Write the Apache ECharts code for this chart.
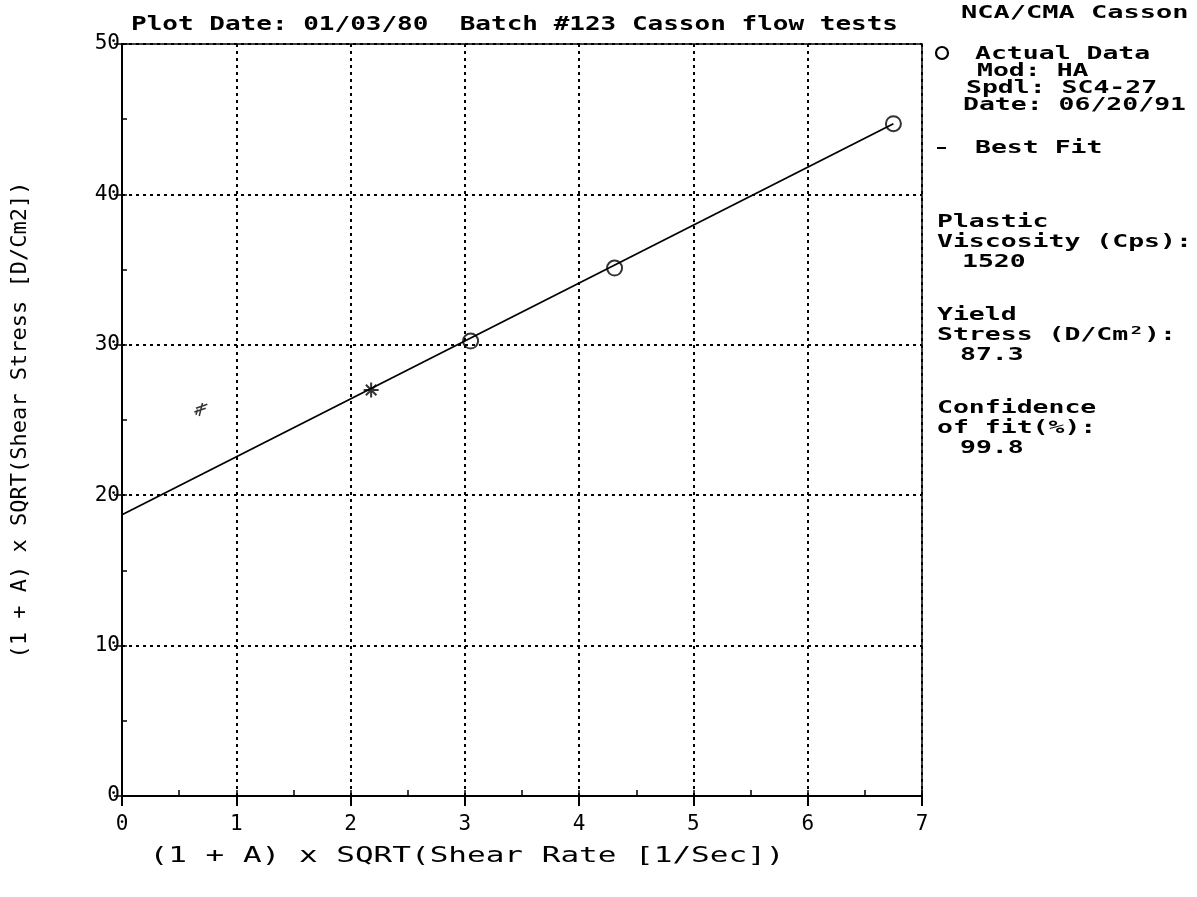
<!DOCTYPE html>
<html>
<head>
<meta charset="utf-8">
<script src="https://cdn.jsdelivr.net/npm/echarts@6/dist/echarts.min.js"></script>
<style>html,body{margin:0;padding:0;background:#fff;}#c{width:1197px;height:897px;}</style>
</head>
<body>
<div id="c"></div>
<script>
// ---- data ----
const actualX = [3.05, 4.31, 6.75];
const actualY = [30.25, 35.1, 44.7];
const starX = [2.18];
const starY = [27.0];
const strayX = [0.69];
const strayY = [25.7];
const fitX = [0, 6.75];
const fitY = [18.7, 44.7];
const xTicks = ['0','1','2','3','4','5','6','7'];
const yTicks = ['0','10','20','30','40','50'];
const titleText = 'Plot Date: 01/03/80  Batch #123 Casson flow tests';
const sideHeader = 'NCA/CMA Casson';
const legendLines = ['Actual Data', 'Mod: HA', 'Spdl: SC4-27', 'Date: 06/20/91', 'Best Fit'];
const statLines = ['Plastic', 'Viscosity (Cps):', '1520', 'Yield', 'Stress (D/Cm²):', '87.3', 'Confidence', 'of fit(%):', '99.8'];
const xName = '(1 + A) x SQRT(Shear Rate [1/Sec])';
const yName = '(1 + A) x SQRT(Shear Stress [D/Cm2])';

const zip = (a, b) => a.map((v, i) => [v, b[i]]);
const BOLD = 'bold 18px "DejaVu Sans Mono"';
function t(text, x, y, sx, font, align) {
  return {
    type: 'text', x: x, y: y, scaleX: sx, silent: true,
    style: { text: text, font: font || BOLD, fill: '#000', textAlign: align || 'left', textVerticalAlign: 'middle' }
  };
}
const SX = 1.47;
const graphics = [
  t(titleText, 131, 25, 1.3, 'bold 20px "DejaVu Sans Mono"'),
  t(sideHeader, 961, 13, 1.5),
  { type: 'circle', silent: true, shape: { cx: 942, cy: 53, r: 6 }, style: { fill: 'none', stroke: '#000', lineWidth: 2.2 } },
  t(legendLines[0], 975, 54, SX),
  t(legendLines[1], 977, 71, SX),
  t(legendLines[2], 966, 88, SX),
  t(legendLines[3], 963, 105, SX),
  { type: 'line', silent: true, shape: { x1: 937, y1: 148, x2: 946, y2: 148 }, style: { stroke: '#000', lineWidth: 2 } },
  t(legendLines[4], 975, 148, SX),
  t(statLines[0], 937, 222, SX),
  t(statLines[1], 937, 242, SX),
  t(statLines[2], 962, 262, SX),
  t(statLines[3], 937, 315, SX),
  t(statLines[4], 937, 335, SX),
  t(statLines[5], 960, 355, SX),
  t(statLines[6], 937, 408, SX),
  t(statLines[7], 937, 428, SX),
  t(statLines[8], 960, 448, SX),
  t(xName, 467, 856, 1.41, '22px "DejaVu Sans Mono"', 'center'),
  { type: 'text', x: 20, y: 420, rotation: Math.PI / 2, silent: true,
    style: { text: yName, font: '22px "DejaVu Sans Mono"', fill: '#000', textAlign: 'center', textVerticalAlign: 'middle' } }
];

const chart = echarts.init(document.getElementById('c'), null, { renderer: 'canvas' });
const gridLine = { show: true, lineStyle: { color: '#000', width: 2, type: [3, 4] } };
chart.setOption({
  animation: false,
  backgroundColor: '#fff',
  grid: { left: 122, right: 275, top: 44, bottom: 101, show: true, borderColor: '#000', borderWidth: 1.5, backgroundColor: 'transparent' },
  graphic: graphics,
  xAxis: [
    { type: 'value', min: 0, max: 7, interval: 1,
      axisLine: { show: true, onZero: false, lineStyle: { color: '#000', width: 2 } },
      axisTick: { show: true, inside: false, length: 10, lineStyle: { color: '#000', width: 2 } },
      axisLabel: { color: '#000', margin: 18, fontSize: 21, fontFamily: 'DejaVu Sans Mono', formatter: v => xTicks[Math.round(v)] },
      splitLine: gridLine },
    { type: 'value', min: 0, max: 7, interval: 0.5, position: 'bottom',
      axisLine: { show: false }, axisLabel: { show: false }, splitLine: { show: false },
      axisTick: { show: true, inside: true, length: 6, lineStyle: { color: '#000', width: 1.5 } } }
  ],
  yAxis: [
    { type: 'value', min: 0, max: 50, interval: 10,
      axisLine: { show: true, onZero: false, lineStyle: { color: '#000', width: 2 } },
      axisTick: { show: true, inside: false, length: 8, lineStyle: { color: '#000', width: 1.5 } },
      axisLabel: { color: '#000', margin: 2, fontSize: 21, fontFamily: 'DejaVu Sans Mono', formatter: v => yTicks[Math.round(v / 10)] },
      splitLine: gridLine },
    { type: 'value', min: 0, max: 50, interval: 5, position: 'left',
      axisLine: { show: false }, axisLabel: { show: false }, splitLine: { show: false },
      axisTick: { show: true, inside: true, length: 5, lineStyle: { color: '#000', width: 1.5 } } }
  ],
  series: [
    { name: 'Best Fit', type: 'line', data: zip(fitX, fitY), showSymbol: false, symbol: 'none',
      lineStyle: { color: '#000', width: 1.8 }, z: 3 },
    { name: 'Actual Data', type: 'scatter', data: zip(actualX, actualY), symbol: 'circle', symbolSize: 15,
      itemStyle: { color: 'rgba(255,255,255,0)', borderColor: '#000', borderWidth: 2 }, z: 4 },
    { name: 'Point', type: 'scatter', data: zip(starX, starY), symbolSize: 15,
      symbol: 'path://M0,5L10,5M5,0L5,10M1.5,1.5L8.5,8.5M8.5,1.5L1.5,8.5',
      itemStyle: { color: 'none', borderColor: '#000', borderWidth: 2 }, z: 4 },
    { name: 'Mark', type: 'scatter', data: zip(strayX, strayY), symbolSize: 13,
      symbol: 'path://M2,4L9,1M1,7L8,4M4,10L6,0M2,9L3,5',
      itemStyle: { color: 'none', borderColor: '#000', borderWidth: 1.5 }, z: 4 }
  ]
});
</script>
</body>
</html>
